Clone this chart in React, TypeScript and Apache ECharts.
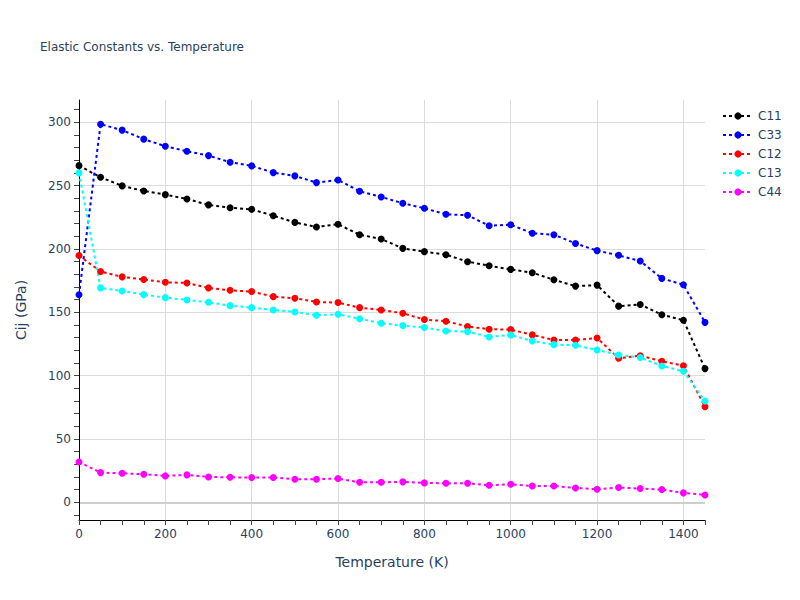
import React, { useEffect, useRef } from "react";
import * as echarts from "echarts";

const temperatures = [0, 50, 100, 150, 200, 250, 300, 350, 400, 450, 500, 550, 600, 650, 700, 750, 800, 850, 900, 950, 1000, 1050, 1100, 1150, 1200, 1250, 1300, 1350, 1400, 1450];

const c11 = [265.7, 256.5, 249.7, 245.7, 242.8, 239.4, 234.7, 232.5, 231.2, 226.2, 220.9, 217.3, 219.4, 211.2, 207.8, 200.4, 197.8, 195.4, 189.9, 186.7, 183.8, 181.2, 175.6, 170.6, 171.4, 154.8, 156.1, 148, 143.7, 105.5];
const c33 = [163.8, 298.4, 293.7, 286.6, 281, 277, 273.6, 268.4, 265.5, 260.2, 257.6, 252.3, 254.4, 245.5, 241, 236, 232, 227.3, 226.5, 218.3, 219.1, 212.3, 211.2, 204.3, 198.6, 194.9, 190.4, 176.7, 171.7, 142];
const c12 = [194.7, 182.1, 177.9, 175.8, 173.6, 173.1, 169.2, 167.3, 166.3, 162.3, 161, 158.1, 157.6, 153.6, 151.8, 149.2, 144.2, 142.9, 138.7, 136.6, 136.3, 132.1, 128.1, 128.1, 129.7, 113.6, 115.7, 111.3, 107.8, 75.4];
const c13 = [260, 169.2, 166.8, 163.9, 161.5, 159.7, 157.8, 155.2, 153.6, 151.8, 150.2, 147.6, 148.4, 144.9, 141.3, 139.5, 137.9, 135.2, 134.7, 130.5, 132.1, 127.3, 124.4, 123.9, 120.2, 116.3, 114.2, 107.6, 103.4, 79.9];
const c44 = [31.8, 23.4, 22.9, 22.1, 20.8, 21.6, 20, 19.7, 19.5, 19.5, 18.2, 18.2, 18.7, 15.8, 15.8, 16.1, 15.3, 15, 15, 13.4, 14.2, 12.9, 12.9, 11.3, 10.3, 11.6, 10.8, 10, 7.4, 5.8];

const seriesNames = ["C11", "C33", "C12", "C13", "C44"];
const seriesColors = ["#000000", "#0000ff", "#ff0000", "#00ffff", "#ff00ff"];
const seriesValues = [c11, c33, c12, c13, c44];

const xTickValues = temperatures;
const xLabelValues = [0, 200, 400, 600, 800, 1000, 1200, 1400];
const yTickValues = [-10, 0, 10, 20, 30, 40, 50, 60, 70, 80, 90, 100, 110, 120, 130, 140, 150, 160, 170, 180, 190, 200, 210, 220, 230, 240, 250, 260, 270, 280, 290, 300, 310];
const yLabelValues = [0, 50, 100, 150, 200, 250, 300];

const X_MIN = 0;
const X_MAX = 1450;
const Y_MIN = -14;
const Y_MAX = 317.5;

const FONT = "DejaVu Sans";
const TEXT = "#2a3f5f";
const GRID = "#dcdcdc";

export default function App() {
  const ref = useRef<HTMLDivElement>(null);

  useEffect(() => {
    document.body.style.margin = "0";
    if (!ref.current) return;
    const chart = echarts.init(ref.current, undefined, { renderer: "svg" });

    const series: any[] = seriesNames.map((name, i) => ({
      name,
      type: "line",
      xAxisIndex: 0,
      yAxisIndex: 0,
      data: temperatures.map((t, j) => [t, seriesValues[i][j]]),
      symbol: "circle",
      symbolSize: 7,
      showSymbol: true,
      clip: false,
      itemStyle: { color: seriesColors[i] },
      lineStyle: { color: seriesColors[i], width: 2, type: [3, 3] },
      emphasis: { disabled: true },
    }));
    series[0].markLine = {
      silent: true,
      symbol: "none",
      label: { show: false },
      lineStyle: { color: "#cfcfcf", width: 2, type: "solid" },
      data: [{ yAxis: 0 }],
      z: 0,
    };

    chart.setOption({
      animation: false,
      backgroundColor: "#ffffff",
      textStyle: { fontFamily: FONT },
      title: {
        text: "Elastic Constants vs. Temperature",
        left: 40,
        top: 41,
        padding: 0,
        textStyle: { fontFamily: FONT, fontSize: 12, fontWeight: "normal", color: TEXT },
      },
      legend: {
        orient: "vertical",
        left: 722,
        top: 110,
        itemWidth: 30,
        itemHeight: 9,
        itemGap: 7,
        padding: 0,
        textStyle: { fontFamily: FONT, fontSize: 12, color: TEXT },
        data: seriesNames,
      },
      grid: { left: 79, right: 95, top: 100, bottom: 80, containLabel: false },
      xAxis: [
        {
          type: "value",
          min: X_MIN,
          max: X_MAX,
          interval: 200,
          name: "Temperature (K)",
          nameLocation: "middle",
          nameGap: 35,
          nameTextStyle: { fontFamily: FONT, fontSize: 14, color: TEXT },
          axisLine: { show: true, onZero: false, lineStyle: { color: "#000000", width: 1 } },
          axisTick: { show: true, inside: false, length: 5, customValues: xTickValues, lineStyle: { color: "#444444" } },
          axisLabel: {
            customValues: xLabelValues,
            formatter: (v: number) => String(v),
            fontFamily: FONT,
            fontSize: 12,
            color: TEXT,
            margin: 8,
          },
          splitLine: { show: false },
        },
        {
          type: "value",
          min: X_MIN,
          max: X_MAX,
          interval: 200,
          position: "bottom",
          axisLine: { show: false },
          axisTick: { show: false },
          axisLabel: { show: false },
          splitLine: { show: true, showMinLine: false, showMaxLine: false, lineStyle: { color: GRID, width: 1 } },
        },
      ],
      yAxis: [
        {
          type: "value",
          min: Y_MIN,
          max: Y_MAX,
          name: "Cij (GPa)",
          nameLocation: "middle",
          nameGap: 51,
          nameTextStyle: { fontFamily: FONT, fontSize: 14, color: TEXT },
          axisLine: { show: true, onZero: false, lineStyle: { color: "#000000", width: 1 } },
          axisTick: { show: true, inside: false, length: 5, customValues: yTickValues, lineStyle: { color: "#444444" } },
          axisLabel: {
            customValues: yLabelValues,
            formatter: (v: number) => String(v),
            fontFamily: FONT,
            fontSize: 12,
            color: TEXT,
            margin: 8,
          },
          splitLine: { show: false },
        },
        {
          type: "value",
          min: Y_MIN,
          max: Y_MAX,
          splitNumber: 6,
          position: "left",
          axisLine: { show: false },
          axisTick: { show: false },
          axisLabel: { show: false },
          splitLine: { show: true, showMinLine: false, showMaxLine: false, lineStyle: { color: GRID, width: 1 } },
        },
      ],
      series,
    });

    return () => chart.dispose();
  }, []);

  return <div ref={ref} style={{ width: 800, height: 600 }} />;
}
